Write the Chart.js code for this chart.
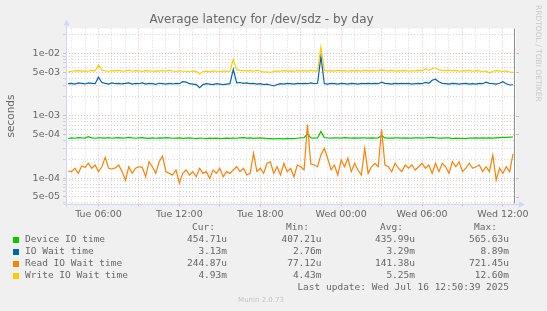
<!DOCTYPE html>
<html>
<head>
<meta charset="UTF-8" />
<title>Average latency for /dev/sdz - by day</title>
<script src="https://cdn.jsdelivr.net/npm/chart.js"></script>
<style>
  body { margin: 0; padding: 0; background: #f0f0f0; }
  canvas { display: block; }
</style>
</head>
<body>
<canvas id="latency" width="547" height="311"></canvas>
<script>
// 15 minute samples, hours counted from Tue 00:00
const startHour = 3.75;
const stepHour = 0.25;
const nowHour = 36 + 50.65 / 60; // Wed 12:50:39

// values in microseconds
const deviceIo = [
  430, 440, 435, 445, 440, 438, 460, 440, 435, 442,
  440, 438, 445, 435, 440, 445, 438, 440, 450, 440,
  435, 440, 445, 438, 432, 440, 435, 440, 438, 445,
  440, 435, 438, 440, 432, 436, 440, 435, 430, 438,
  435, 430, 436, 432, 438, 430, 434, 436, 432, 438,
  435, 440, 445, 438, 440, 432, 436, 440, 438, 430,
  428, 425, 430, 428, 425, 432, 430, 428, 435, 440,
  445, 509, 440, 438, 440, 560, 445, 440, 438, 442,
  440, 438, 445, 440, 436, 440, 438, 442, 440, 436,
  440, 438, 442, 480, 440, 438, 436, 440, 442, 438,
  440, 436, 438, 440, 442, 438, 440, 445, 450, 440,
  438, 436, 440, 442, 430, 436, 432, 434, 430, 436,
  438, 440, 436, 440, 438, 442, 436, 440, 445, 450,
  448, 452, 455
];
const ioWait = [
  3250, 3300, 3200, 3350, 3280, 3220, 3350, 3300, 3250, 4125,
  3400, 3300, 3200, 3350, 3250, 3300, 3220, 3280, 3350, 3200,
  3300, 3250, 3350, 3200, 3300, 3250, 3180, 3300, 3250, 3200,
  3280, 3220, 3300, 3250, 3500, 3450, 3250, 3200, 3150, 2800,
  3150, 3250, 3200, 3150, 3250, 3200, 3150, 3200, 3250, 5540,
  3350, 3400, 3300, 3350, 3250, 3300, 3200, 3250, 3150, 3200,
  3100, 2990, 3150, 3250, 3200, 3300, 3250, 3200, 3300, 3250,
  3300, 3250, 3350, 3250, 3300, 8890, 3250, 3200, 3300, 3250,
  3200, 3300, 3250, 3200, 3300, 3250, 3200, 3300, 3250, 3300,
  3250, 3300, 3250, 3450, 3300, 3250, 3200, 3300, 3250, 3300,
  3250, 3300, 3200, 3250, 3300, 3250, 3400, 3300, 3700, 3830,
  3500, 3300, 3250, 3200, 3300, 3250, 3200, 3250, 3300, 3200,
  3250, 3200, 3300, 3250, 3450, 3300, 3250, 3200, 3300, 3500,
  3250, 3100, 3130
];
const readWait = [
  130, 127, 144, 119, 156, 149, 173, 144, 162, 127,
  152, 215, 144, 140, 146, 162, 127, 93, 152, 119,
  144, 152, 149, 105, 183, 152, 119, 183, 225, 127,
  119, 112, 135, 83, 119, 135, 112, 127, 105, 144,
  119, 127, 99, 135, 119, 144, 105, 127, 119, 135,
  152, 127, 144, 112, 119, 250, 127, 144, 119, 173,
  183, 119, 152, 112, 173, 127, 144, 105, 162, 152,
  135, 721, 168, 162, 152, 235, 300, 208, 135, 162,
  112, 195, 152, 208, 127, 173, 135, 112, 300, 119,
  152, 173, 152, 605, 162, 152, 127, 173, 144, 127,
  162, 144, 162, 135, 152, 173, 144, 162, 119, 173,
  127, 173, 152, 119, 183, 152, 183, 127, 144, 173,
  144, 152, 162, 127, 152, 127, 235, 93, 144, 119,
  152, 127, 245
];
const writeWait = [
  4980, 5150, 5200, 5250, 5180, 5230, 5150, 5300, 5200, 6500,
  5350, 5200, 5150, 5260, 5200, 5300, 5180, 5220, 5350, 5150,
  5250, 5200, 5100, 5280, 5200, 5150, 5230, 5180, 5250, 5150,
  5350, 5200, 5100, 5250, 5150, 5150, 5050, 5200, 5120, 4650,
  5100, 5180, 5050, 5200, 5150, 5100, 5200, 5180, 5120, 8000,
  5400, 5300, 5250, 5200, 5280, 5150, 5300, 5200, 5000, 5050,
  4950, 5100, 5200, 5150, 5250, 5180, 5220, 5150, 5280, 5200,
  5250, 5180, 5300, 5220, 5200, 12600, 5300, 5200, 5250, 5180,
  5300, 5200, 5250, 5150, 5280, 5200, 5250, 5180, 5300, 5220,
  5250, 5200, 5280, 5400, 5250, 5200, 5300, 5180, 5250, 5200,
  5280, 5150, 5230, 5200, 5300, 5250, 5600, 5300, 5700, 5850,
  5400, 5300, 5250, 5350, 5200, 5300, 5150, 5250, 5200, 5300,
  5150, 5250, 5200, 5100, 5200, 4800, 5150, 5250, 5200, 5100,
  5200, 5000, 4930
];

const seriesNames = ["Device IO time", "IO Wait time", "Read IO Wait time", "Write IO Wait time"];
const seriesColors = ["#00cc00", "#0066b3", "#ff8000", "#ffcc00"];
const legendCur = ["454.71u", "3.13m", "244.87u", "4.93m"];
const legendMin = ["407.21u", "2.76m", "77.12u", "4.43m"];
const legendAvg = ["435.99u", "3.29m", "141.38u", "5.25m"];
const legendMax = ["565.63u", "8.89m", "721.45u", "12.60m"];
const xLabelDays = ["Tue", "Wed"];
const yLabelMantissas = [1, 5];
const yMin = 3.92e-5, yMax = 2.49e-2;
const xMin = 3.59, xMax = 36.97;

const times = [];
for (let i = 0; i < deviceIo.length; i++) times.push(startHour + i * stepHour);

function toPoints(arr) {
    return arr.map((v, i) => ({ x: times[i], y: v / 1e6 }));
}

// grid positions: every hour on x, 1..9 per decade on y
const xTicks = [];
for (let h = Math.ceil(xMin); h <= xMax; h++) xTicks.push(h);
const yTicks = [];
for (let e = -5; e <= -2; e++) {
    for (let m = 1; m <= 9; m++) {
        const v = m * Math.pow(10, e);
        if (v >= yMin && v <= yMax) yTicks.push(v);
    }
}

function mantissa(v) {
    const e = Math.floor(Math.log10(v) + 1e-9);
    return Math.round(v / Math.pow(10, e));
}
function sciLabel(v) {
    const e = Math.floor(Math.log10(v) + 1e-9);
    return mantissa(v) + "e-" + String(-e).padStart(2, "0");
}

const minorGrid = "rgba(190,190,190,0.6)";
const majorGrid = "rgba(240,130,130,0.6)";
const fontColor = "#666666";

const muninPlugin = {
    id: "munin",
    beforeDraw(chart) {
        const ctx = chart.ctx, a = chart.chartArea;
        ctx.save();
        ctx.fillStyle = "#f0f0f0";
        ctx.fillRect(0, 0, chart.width, chart.height);
        ctx.fillStyle = "#ffffff";
        ctx.fillRect(a.left, a.top, a.right - a.left, a.bottom - a.top);
        ctx.restore();
    },
    afterDraw(chart) {
        const ctx = chart.ctx, a = chart.chartArea;
        const xs = chart.scales.x, ys = chart.scales.y;
        ctx.save();

        // red ticks on the right edge
        ctx.strokeStyle = majorGrid;
        ctx.lineWidth = 1;
        yTicks.forEach(v => {
            if (yLabelMantissas.indexOf(mantissa(v)) < 0) return;
            const y = Math.round(ys.getPixelForValue(v)) + 0.5;
            ctx.beginPath();
            ctx.moveTo(a.right, y);
            ctx.lineTo(a.right + 3, y);
            ctx.stroke();
        });

        // "now" rule
        const nx = Math.round(xs.getPixelForValue(nowHour)) + 0.5;
        ctx.strokeStyle = "#909090";
        ctx.beginPath();
        ctx.moveTo(nx, a.top);
        ctx.lineTo(nx, a.bottom);
        ctx.stroke();

        // axes with arrows
        const ax = Math.round(a.left) + 0.5, ay = Math.round(a.bottom) + 0.5;
        ctx.strokeStyle = "#cfd6f8";
        ctx.fillStyle = "#cfd6f8";
        ctx.beginPath();
        ctx.moveTo(ax, ay + 3);
        ctx.lineTo(ax, a.top - 4);
        ctx.moveTo(ax - 3, ay);
        ctx.lineTo(a.right + 4, ay);
        ctx.stroke();
        ctx.beginPath();
        ctx.moveTo(ax - 3, a.top - 3);
        ctx.lineTo(ax + 3, a.top - 3);
        ctx.lineTo(ax, a.top - 9);
        ctx.closePath();
        ctx.fill();
        ctx.beginPath();
        ctx.moveTo(a.right + 3, ay - 3);
        ctx.lineTo(a.right + 3, ay + 3);
        ctx.lineTo(a.right + 9, ay);
        ctx.closePath();
        ctx.fill();

        // title
        ctx.fillStyle = fontColor;
        ctx.font = '12px "DejaVu Sans"';
        ctx.textAlign = "center";
        ctx.textBaseline = "middle";
        ctx.fillText("Average latency for /dev/sdz - by day", 261.5, 19.5);

        // rrdtool credit
        ctx.save();
        ctx.translate(537.5, 5);
        ctx.rotate(Math.PI / 2);
        ctx.fillStyle = "#c8c8c8";
        ctx.font = '7.5px "DejaVu Sans"';
        ctx.textAlign = "left";
        ctx.fillText("RRDTOOL / TOBI OETIKER", 0, 0);
        ctx.restore();

        // legend table
        ctx.font = '9.5px "DejaVu Sans Mono"';
        ctx.fillStyle = fontColor;
        ctx.textAlign = "right";
        ctx.fillText("Cur:", 215, 228);
        ctx.fillText("Min:", 309, 228);
        ctx.fillText("Avg:", 403, 228);
        ctx.fillText("Max:", 497, 228);
        seriesNames.forEach((name, i) => {
            const y = 240 + i * 12;
            ctx.fillStyle = seriesColors[i];
            ctx.fillRect(13, y - 3, 6, 6);
            ctx.fillStyle = fontColor;
            ctx.textAlign = "left";
            ctx.fillText(name, 25, y);
            ctx.textAlign = "right";
            ctx.fillText(legendCur[i], 227, y);
            ctx.fillText(legendMin[i], 321.5, y);
            ctx.fillText(legendAvg[i], 415, y);
            ctx.fillText(legendMax[i], 509, y);
        });
        ctx.fillText("Last update: Wed Jul 16 12:50:39 2025", 509, 288);

        ctx.textAlign = "center";
        ctx.fillStyle = "#c4c4c4";
        ctx.font = '7px "DejaVu Sans"';
        ctx.fillText("Munin 2.0.73", 261, 300);
        ctx.restore();
    }
};

function makeSet(i, arr, order) {
    return {
        label: seriesNames[i],
        data: toPoints(arr),
        borderColor: seriesColors[i],
        backgroundColor: seriesColors[i],
        borderWidth: 1.2,
        pointRadius: 0,
        tension: 0,
        fill: false,
        order: order,
    };
}

new Chart(document.getElementById("latency"), {
    type: "line",
    data: {
        datasets: [
            makeSet(0, deviceIo, 3),
            makeSet(1, ioWait, 2),
            makeSet(2, readWait, 1),
            makeSet(3, writeWait, 0),
        ],
    },
    plugins: [muninPlugin],
    options: {
        responsive: false,
        animation: false,
        devicePixelRatio: 1,
        layout: { padding: { left: 0, top: 28.5, right: 31, bottom: 87.5 } },
        plugins: {
            legend: { display: false },
            tooltip: { enabled: false },
        },
        scales: {
            x: {
                type: "linear",
                min: xMin,
                max: xMax,
                afterBuildTicks: (scale) => { scale.ticks = xTicks.map(v => ({ value: v })); },
                afterFit: (scale) => { scale.height = 20; },
                border: { display: false, dash: [1, 2] },
                grid: {
                    color: (c) => (c.tick && c.tick.value % 3 === 0 ? majorGrid : minorGrid),
                    tickColor: (c) => (c.tick && c.tick.value % 3 === 0 ? majorGrid : "rgba(0,0,0,0)"),
                    tickLength: 3,
                    lineWidth: 1,
                },
                ticks: {
                    autoSkip: false,
                    maxRotation: 0,
                    padding: 2,
                    color: fontColor,
                    font: { family: "DejaVu Sans", size: 9.5 },
                    callback: (v) => {
                        if (v % 6 !== 0) return "";
                        const day = xLabelDays[Math.floor(v / 24)];
                        return day + " " + String(v % 24).padStart(2, "0") + ":00";
                    },
                },
            },
            y: {
                type: "logarithmic",
                min: yMin,
                max: yMax,
                afterBuildTicks: (scale) => { scale.ticks = yTicks.map(v => ({ value: v })); },
                afterFit: (scale) => { scale.width = 66; },
                border: { display: false, dash: [1, 2] },
                grid: {
                    color: (c) => (c.tick && yLabelMantissas.indexOf(mantissa(c.tick.value)) >= 0 ? majorGrid : minorGrid),
                    tickColor: (c) => (c.tick && yLabelMantissas.indexOf(mantissa(c.tick.value)) >= 0 ? majorGrid : minorGrid),
                    tickLength: 3,
                    lineWidth: 1,
                },
                ticks: {
                    autoSkip: false,
                    padding: 3,
                    color: fontColor,
                    font: { family: "DejaVu Sans", size: 9.5 },
                    callback: (v) => (yLabelMantissas.indexOf(mantissa(v)) >= 0 ? sciLabel(v) : ""),
                },
                title: {
                    display: true,
                    text: "seconds",
                    color: fontColor,
                    font: { family: "DejaVu Sans", size: 10.5 },
                    padding: { top: 5, bottom: 0 },
                },
            },
        },
    },
});
</script>
</body>
</html>
